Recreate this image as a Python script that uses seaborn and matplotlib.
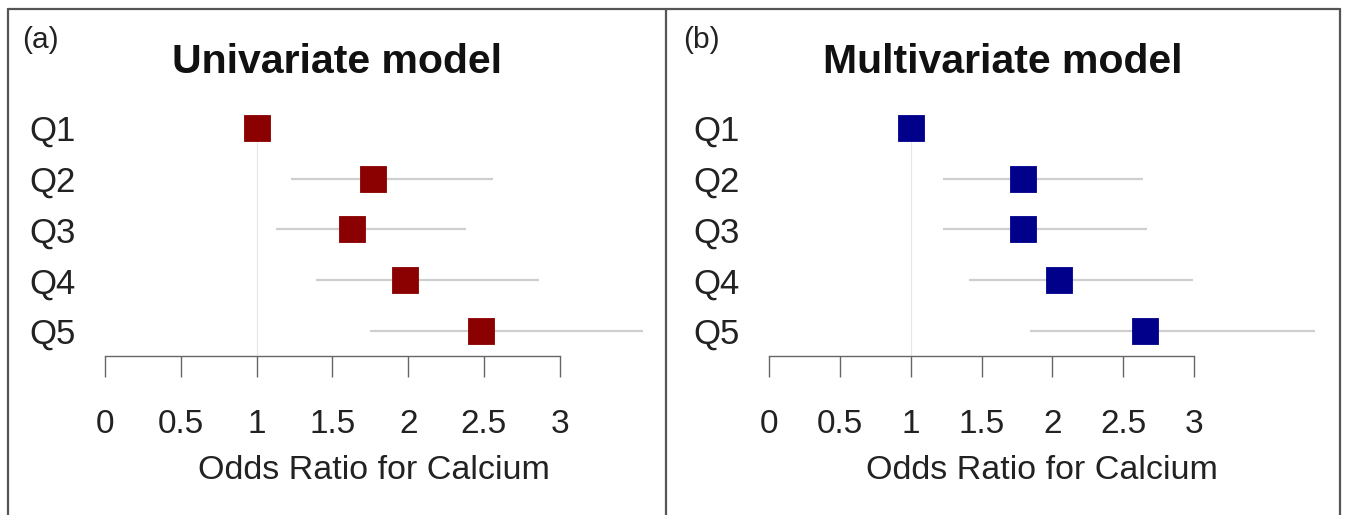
import matplotlib.pyplot as plt
import matplotlib.lines as mlines
import seaborn as sns
import pandas as pd
import numpy as np

# quintiles of calcium intake
quintiles = ['Q1', 'Q2', 'Q3', 'Q4', 'Q5']

# univariate model: odds ratio + 95% CI
uni_or = [1.00, 1.77, 1.63, 1.98, 2.48]
uni_lo = [1.00, 1.23, 1.13, 1.39, 1.75]
uni_hi = [1.00, 2.56, 2.38, 2.86, 3.55]

# multivariate model
multi_or = [1.00, 1.79, 1.79, 2.05, 2.65]
multi_lo = [1.00, 1.23, 1.23, 1.41, 1.84]
multi_hi = [1.00, 2.64, 2.67, 2.99, 3.85]

REF = 1
xticks = [0, 0.5, 1, 1.5, 2, 2.5, 3]
tick_labels = ['0', '0.5', '1', '1.5', '2', '2.5', '3']

sns.set_style('white')
plt.rcParams['font.family'] = ['Liberation Sans', 'DejaVu Sans']

W, H = 1347, 515
fig = plt.figure(figsize=(W / 100, H / 100), dpi=100)


def forest(df, color, left_px, px_per_unit, title, tag, title_x, tag_x):
    xmax = df['hi'].max()
    bottom_px, height_px = 356.4, 259
    ax = fig.add_axes([left_px / W, (H - bottom_px) / H,
                       xmax * px_per_unit / W, height_px / H])
    ax.vlines(REF, 0, len(df) - 0.5, color='#e6e6e6', lw=0.8, zorder=1)
    ax.hlines(df['q'], df['lo'], df['hi'], color='#cfcfcf', lw=1.6, zorder=2)
    sns.scatterplot(data=df, x='or', y='q', marker='s', s=350, color=color,
                    edgecolor=color, linewidth=0.6, ax=ax, zorder=3, legend=False)
    ax.set_xlim(0, xmax)
    ax.set_ylim(len(df) - 0.5, -0.6)
    for s in ['top', 'right', 'left']:
        ax.spines[s].set_visible(False)
    ax.spines['bottom'].set_bounds(0, 3)
    ax.spines['bottom'].set_color('#666666')
    ax.spines['bottom'].set_linewidth(1.0)
    ax.set_xticks(xticks)
    ax.set_xticklabels(tick_labels, fontsize=24, color='#222222')
    ax.tick_params(axis='x', length=15, width=1.0, color='#666666',
                   direction='out', pad=23, bottom=True)
    ax.tick_params(axis='y', length=0, pad=21, labelsize=25, labelcolor='#222222')
    ax.set_ylabel('')
    ax.set_xlabel('Odds Ratio for Calcium', fontsize=24.5, color='#222222', labelpad=11)
    fig.text(title_x / W, (H - 73) / H, title, ha='center', va='baseline',
             fontsize=29.5, fontweight='bold', color='#111111')
    fig.text(tag_x / W, (H - 48) / H, tag, ha='left', va='baseline',
             fontsize=21.5, color='#222222')
    return ax


uni = pd.DataFrame({'q': quintiles, 'or': uni_or, 'lo': uni_lo, 'hi': uni_hi})
multi = pd.DataFrame({'q': quintiles, 'or': multi_or, 'lo': multi_lo, 'hi': multi_hi})

forest(uni, '#8b0000', 105, 151.6, 'Univariate model', '(a)', 337, 22)
forest(multi, '#00008b', 769, 141.7, 'Multivariate model', '(b)', 1003, 683)

# panel frames
border = dict(color='#555555', lw=1.6, transform=fig.transFigure)
for xs, ys in [([8, 1340], [9, 9]), ([8, 8], [9, 515]),
               ([666, 666], [9, 515]), ([1340, 1340], [9, 515])]:
    fig.add_artist(mlines.Line2D([x / W for x in xs], [(H - y) / H for y in ys], **border))

plt.savefig('out.png', dpi=100)
